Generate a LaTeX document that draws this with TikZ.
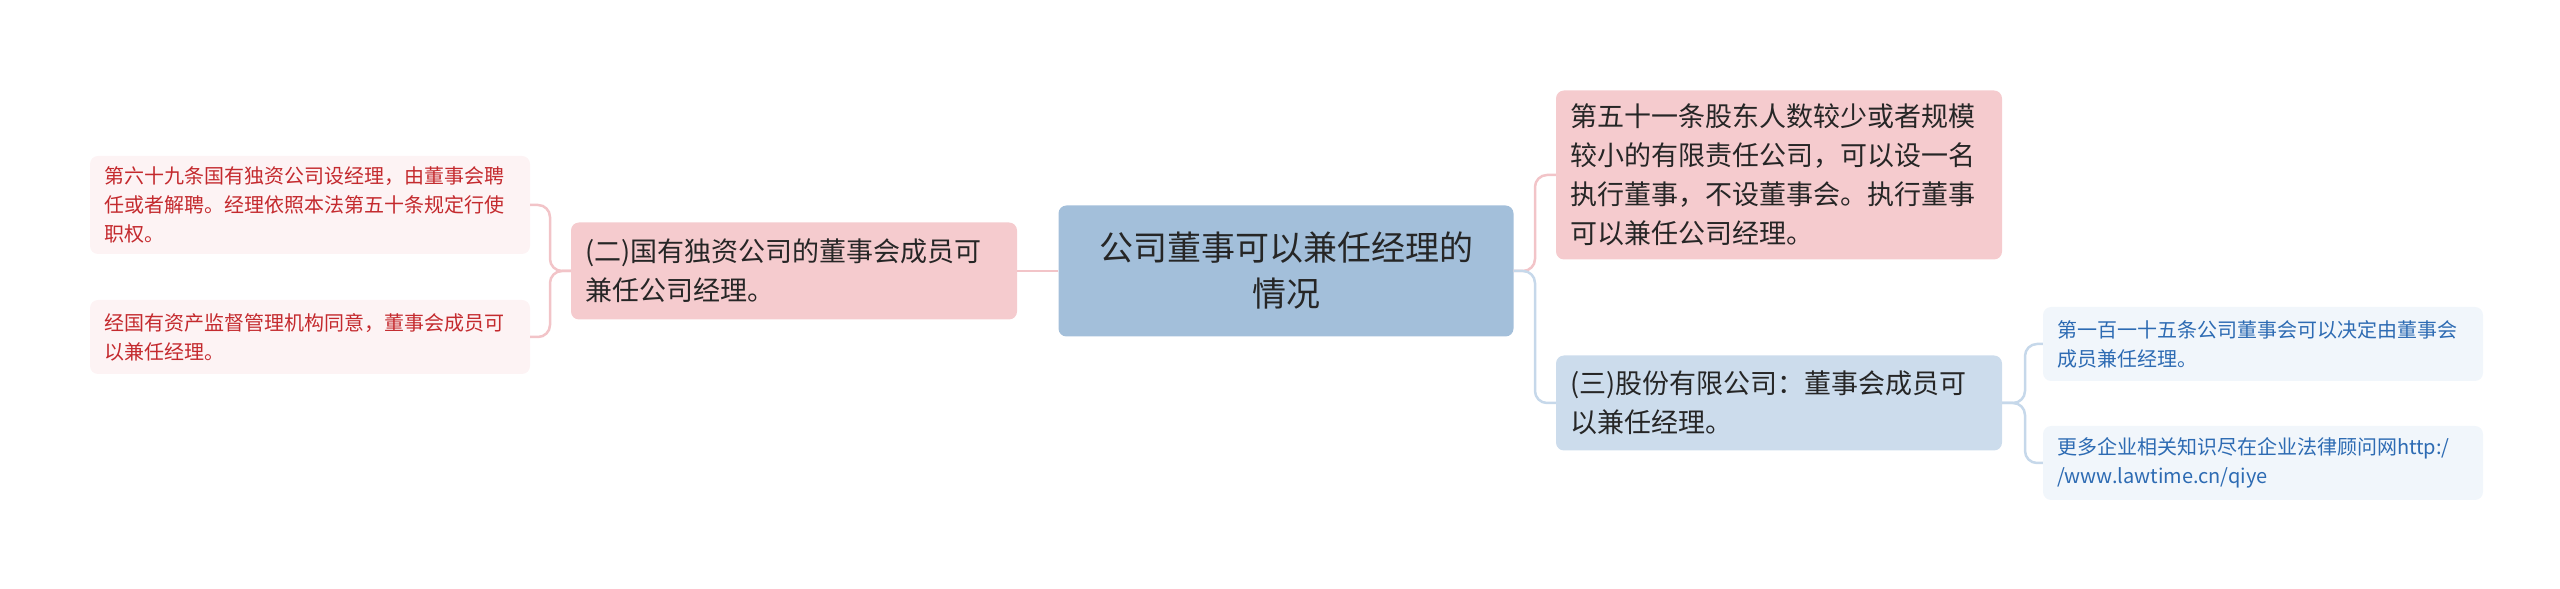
\documentclass[tikz,border=0pt]{standalone}
\usepackage{fontspec}
\setmainfont{Noto Sans CJK SC}
\usetikzlibrary{positioning}
\definecolor{rootfill}{HTML}{A3BFDA}
\definecolor{pinkfill}{HTML}{F5CBCE}
\definecolor{bluefill}{HTML}{CCDCEC}
\definecolor{pinkleaf}{HTML}{FDF3F4}
\definecolor{blueleaf}{HTML}{F1F6FB}
\definecolor{redtext}{HTML}{C42A2E}
\definecolor{bluetext}{HTML}{2D6BB3}
\definecolor{pinkline}{HTML}{F2C4C8}
\definecolor{blueline}{HTML}{C6D8EA}
\tikzset
{
    box/.style = {rounded corners=8pt, align=left, anchor=center,
                  inner xsep=14pt, text=black!85},
    rootbox/.style = {box, fill=rootfill, align=center,
                      font=\fontsize{34}{46}\selectfont},
    midbox/.style = {box, font=\fontsize{27}{39}\selectfont},
    leafbox/.style = {box, font=\fontsize{20}{29}\selectfont},
    link/.style = {line width=2.5pt, rounded corners=12pt}
}
\begin{document}
\begin{tikzpicture}[x=1pt,y=1pt]
    \useasboundingbox (0,0) rectangle (2560,589);
    \node[rootbox, minimum width=455, minimum height=131]
        (root) at (1286,318) {公司董事可以兼任经理的\\情况};
    % left side
    \node[midbox, fill=pinkfill, minimum width=446, minimum height=97,
          text width=418] (state) at (794,318)
        {(二)国有独资公司的董事会成员可\\兼任公司经理。};
    \node[leafbox, fill=pinkleaf, text=redtext, minimum width=440,
          minimum height=98, text width=412] (law69) at (310,384)
        {第六十九条国有独资公司设经理，由董事会聘\\任或者解聘。经理依照本法第五十条规定行使\\职权。};
    \node[leafbox, fill=pinkleaf, text=redtext, minimum width=440,
          minimum height=74, text width=412] (agree) at (310,252)
        {经国有资产监督管理机构同意，董事会成员可\\以兼任经理。};
    % right side
    \node[midbox, fill=pinkfill, minimum width=446, minimum height=169,
          text width=418] (law51) at (1779,414)
        {第五十一条股东人数较少或者规模\\较小的有限责任公司，可以设一名\\执行董事，不设董事会。执行董事\\可以兼任公司经理。};
    \node[midbox, fill=bluefill, minimum width=446, minimum height=95,
          text width=418] (stock) at (1779,186)
        {(三)股份有限公司：董事会成员可\\以兼任经理。};
    \node[leafbox, fill=blueleaf, text=bluetext, minimum width=440,
          minimum height=74, text width=412] (law115) at (2263,245)
        {第一百一十五条公司董事会可以决定由董事会\\成员兼任经理。};
    \node[leafbox, fill=blueleaf, text=bluetext, minimum width=440,
          minimum height=74, text width=412] (more) at (2263,126)
        {更多企业相关知识尽在企业法律顾问网http:/\\/www.lawtime.cn/qiye};
    % connectors
    \draw[link, pinkline] (root.west) -- (state.east);
    \draw[link, pinkline] (state.west) -- (550,318) |- (law69.east);
    \draw[link, pinkline] (state.west) -- (550,318) |- (agree.east);
    \draw[link, pinkline] (root.east) -- (1535,318) |- (law51.west);
    \draw[link, blueline] (root.east) -- (1535,318) |- (stock.west);
    \draw[link, blueline] (stock.east) -- (2025,186) |- (law115.west);
    \draw[link, blueline] (stock.east) -- (2025,186) |- (more.west);
\end{tikzpicture}
\end{document}
